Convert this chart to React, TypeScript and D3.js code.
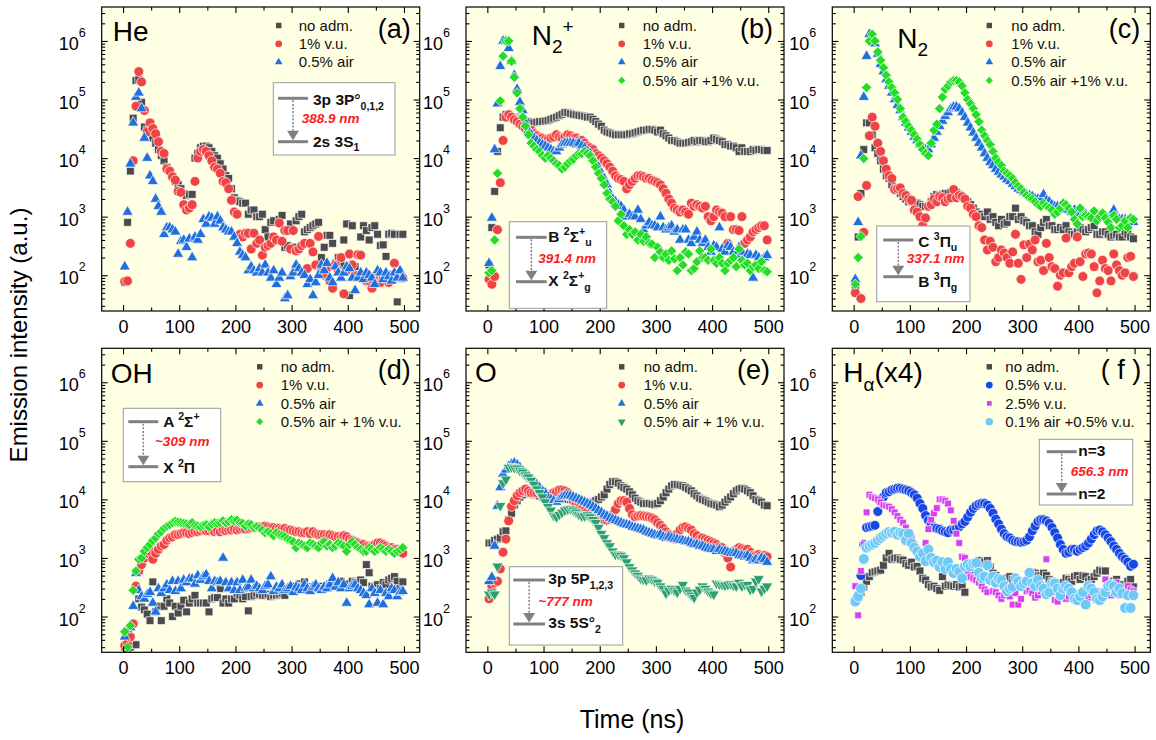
import { useEffect, useRef } from 'react';
import * as d3 from 'd3';

// time grid in ns, one sample every 5 ns
const TIME = d3.range(3, 500, 5);

const X_DOMAIN = [-38, 528];
const Y_DOMAIN = [24.5, 3.8e6];
const X_TICKS = [0, 100, 200, 300, 400, 500];
const X_MINOR = [50, 150, 250, 350, 450];
const Y_EXPONENTS = [2, 3, 4, 5, 6];

// (a) He 388.9 nm
const heNoAdm = [
  75, 800, 6000, 48000, 210000, 220000, 90000, 34000, 30000, 26000,
  22000, 18000, 14000, 11000, 9000, 7000, 6000, 4800, 4000, 3500,
  3000, 2500, 2300, 2400, 2400, 10000, 12000, 15000, 16000, 16000,
  15000, 13000, 11000, 10000, 8000, 6500, 5000, 4500, 3000, 2100,
  1900, 1800, 1700, 1700, 1100, 1300, 1300, 1000, 1000, 1100,
  600, 450, 800, 850, 400, 900, 1050, 300, 320, 750,
  300, 850, 1000, 1100, 550, 600, 650, 700, 750, 800,
  200, 300, 480, 480, 350, 160, 200, 150, 400, 750,
  45, 700, 140, 100, 450, 700, 580, 400, 650, 700,
  500, 320, 330, 210, 500, 520, 500, 35, 500, 500,
];
const heVu = [
  78, 80, 350, 9000, 77000, 300000, 200000, 65000, 28000, 40000,
  32000, 26000, 19000, 13000, 12000, 6500, 6000, 4800, 4200, 2700,
  2600, 1600, 1300, 1400, 1600, 4000, 10000, 13000, 14000, 13000,
  11000, 9000, 7000, 6500, 5500, 4000, 3800, 3000, 1900, 1200,
  1100, 500, 450, 520, 520, 280, 520, 350, 400, 220,
  300, 320, 350, 450, 400, 780, 380, 580, 580, 280,
  580, 260, 280, 320, 350, 130, 350, 250, 150, 460,
  120, 100, 130, 80, 60, 150, 120, 200, 48, 120,
  230, 150, 100, 225, 220, 100, 80, 80, 60, 90,
  80, 75, 90, 100, 75, 100, 160, 95, 90, 90,
];
const heAir = [
  140, 1200, 8000, 40000, 110000, 130000, 70000, 22000, 10000, 5000,
  4000, 2000, 1500, 1200, 500, 650, 650, 600, 550, 230,
  380, 400, 300, 420, 200, 450, 400, 500, 900, 750,
  1000, 950, 750, 1000, 850, 650, 600, 550, 550, 450,
  350, 250, 220, 200, 120, 140, 120, 110, 130, 110,
  150, 110, 90, 120, 70, 90, 110, 40, 45, 95,
  110, 150, 130, 110, 100, 70, 85, 45, 75, 100,
  150, 120, 160, 90, 75, 140, 110, 90, 110, 140,
  130, 90, 55, 90, 110, 85, 110, 100, 90, 70,
  120, 110, 85, 110, 95, 80, 110, 90, 120, 90,
];

// (b) N2+ 391.4 nm
const n2pNoAdm = [
  150, 650, 2700, 13000, 33000, 50000, 55000, 52000, 50000, 50000,
  48000, 46000, 45000, 43000, 42000, 40000, 40000, 41000, 42000, 42000,
  43000, 44000, 46000, 48000, 50000, 53000, 56000, 60000, 60000, 58000,
  56000, 55000, 54000, 53000, 52000, 50000, 50000, 46000, 42000, 38000,
  35000, 30000, 28000, 27000, 26000, 25000, 25000, 25000, 25000, 25000,
  26000, 26000, 27000, 28000, 29000, 30000, 30000, 31000, 31000, 30000,
  28000, 30000, 26000, 24000, 22000, 20000, 20000, 19000, 18000, 18000,
  18000, 18500, 19000, 20000, 19000, 20000, 20000, 19000, 19000, 20000,
  22000, 21000, 20000, 19000, 17000, 17000, 16000, 16000, 15000, 13000,
  15000, 13000, 13000, 13000, 14000, 13500, 14000, 14000, 13500, 13500,
];
const n2pVu = [
  85, 70, 95, 600, 3800, 20000, 50000, 55000, 50000, 45000,
  42000, 38000, 35000, 32000, 30000, 30000, 26000, 24000, 22000, 22000,
  21000, 21000, 22000, 23000, 25000, 23000, 22000, 23000, 25000, 24000,
  22000, 22000, 20000, 20000, 18000, 16000, 15000, 14000, 12000, 11000,
  10000, 9000, 8000, 7000, 6000, 5000, 4500, 4300, 4000, 3000,
  3500, 4000, 4500, 5000, 5000, 4800, 4500, 4500, 4200, 4000,
  3800, 3500, 3000, 2500, 2000, 1700, 1400, 1300, 1200, 1300,
  1200, 1100, 1700, 1500, 1600, 1500, 1400, 1500, 1000, 850,
  1000, 1300, 1200, 1150, 1000, 350, 1000, 600, 600, 580,
  1000, 350, 400, 450, 550, 600, 650, 700, 700, 400,
];
const n2pAir = [
  160, 950, 14000, 85000, 370000, 1000000, 1000000, 750000, 450000, 260000,
  150000, 90000, 65000, 40000, 30000, 25000, 22000, 20000, 18000, 17000,
  16000, 15000, 14000, 13000, 13000, 15000, 17000, 18000, 18000, 18000,
  18000, 17000, 18000, 16000, 15000, 13000, 12000, 10000, 8000, 7000,
  5500, 4500, 3500, 2500, 2000, 1800, 1600, 1500, 1300, 1000,
  1100, 1000, 1000, 1300, 900, 600, 700, 800, 700, 700,
  650, 1000, 650, 600, 650, 700, 550, 600, 400, 600,
  600, 400, 350, 450, 550, 400, 350, 400, 300, 250,
  320, 300, 650, 280, 250, 320, 300, 250, 220, 300,
  250, 150, 230, 220, 90, 220, 200, 180, 200, 220,
];
const n2pAirVu = [
  110, 120, 400, 5500, 95000, 550000, 1000000, 1000000, 450000, 240000,
  130000, 70000, 50000, 35000, 25000, 18000, 16000, 14000, 13000, 11000,
  10000, 11000, 10000, 9000, 8000, 7500, 6500, 7000, 8000, 9000,
  9500, 11000, 12000, 12000, 13000, 12000, 11000, 9000, 7000, 5500,
  4500, 3500, 2500, 2000, 1800, 1500, 850, 1100, 700, 500,
  600, 500, 550, 400, 500, 380, 450, 350, 340, 200,
  300, 250, 200, 230, 180, 260, 190, 120, 200, 150,
  250, 230, 120, 130, 170, 260, 200, 200, 180, 280,
  180, 160, 200, 160, 120, 160, 180, 200, 140, 280,
  180, 150, 160, 120, 140, 150, 130, 170, 120, 115,
];

// (c) N2 337.1 nm
const n2NoAdm = [
  60, 450, 2500, 14000, 40000, 40000, 25000, 15000, 12000, 9000,
  6500, 5000, 4500, 3500, 3000, 2800, 2500, 2200, 2000, 1800,
  1800, 1700, 1700, 1600, 1500, 1500, 1500, 1800, 2200, 2400,
  2300, 2400, 2500, 2500, 2600, 2500, 2600, 2400, 2200, 2000,
  1800, 1600, 1400, 1200, 1100, 1100, 1000, 1200, 900, 1000,
  800, 700, 900, 750, 800, 1000, 1000, 1400, 900, 1000,
  850, 800, 700, 700, 550, 500, 650, 800, 900, 700,
  700, 600, 600, 650, 600, 700, 550, 500, 500, 550,
  650, 600, 550, 600, 650, 700, 500, 500, 550, 550,
  500, 450, 480, 500, 450, 450, 550, 500, 450, 420,
];
const n2Vu = [
  50, 2200, 40, 540, 3400, 24000, 50000, 35000, 18000, 13000,
  9000, 6500, 5000, 4500, 2900, 3000, 3100, 2500, 2300, 2000,
  1900, 1300, 1200, 1000, 700, 950, 1500, 1600, 2000, 1800,
  2200, 2100, 1800, 2000, 2100, 2900, 2100, 2300, 2200, 2000,
  1500, 1400, 1100, 1000, 700, 650, 400, 270, 380, 300,
  170, 200, 270, 240, 200, 160, 250, 500, 160, 85,
  330, 200, 340, 270, 400, 170, 180, 120, 350, 200,
  140, 130, 65, 100, 110, 430, 110, 140, 160, 450,
  170, 95, 230, 240, 230, 140, 50, 80, 180, 130,
  120, 80, 230, 150, 120, 100, 110, 200, 210, 95,
];
const n2Air = [
  85, 800, 11000, 110000, 550000, 1300000, 1200000, 900000, 600000, 400000,
  300000, 220000, 170000, 130000, 100000, 80000, 65000, 50000, 40000, 33000,
  28000, 23000, 20000, 17000, 15000, 14000, 14000, 17000, 22000, 28000,
  35000, 43000, 52000, 60000, 70000, 75000, 75000, 70000, 60000, 50000,
  40000, 33000, 27000, 22000, 18000, 15000, 12000, 10000, 8500, 7500,
  6500, 5800, 5200, 4800, 4300, 4000, 3600, 3300, 3000, 2800,
  2600, 2400, 2300, 2200, 2000, 2000, 2000, 2400, 1900, 1800,
  1600, 1500, 1500, 1400, 1400, 1300, 1300, 1200, 1300, 1200,
  1100, 1100, 1100, 1000, 1100, 1000, 1000, 1000, 950, 1000,
  950, 1000, 1300, 1000, 900, 900, 900, 850, 850, 800,
];
const n2AirVu = [
  70, 200, 460, 9800, 160000, 1000000, 1300000, 1000000, 650000, 470000,
  350000, 260000, 200000, 160000, 130000, 100000, 70000, 50000, 42000, 35000,
  30000, 25000, 21000, 17000, 14000, 12000, 11000, 18000, 30000, 38000,
  70000, 110000, 150000, 170000, 200000, 210000, 210000, 200000, 170000, 130000,
  100000, 85000, 70000, 55000, 42000, 30000, 24000, 20000, 17000, 13000,
  10000, 8500, 7500, 6000, 5500, 5000, 4500, 3800, 3300, 3000,
  2600, 2300, 2100, 2000, 1800, 1600, 1500, 1700, 1500, 1400,
  1300, 1100, 1200, 1400, 1700, 1600, 1400, 1200, 900, 750,
  1400, 1000, 1050, 1000, 950, 1250, 850, 1000, 1150, 950,
  800, 650, 1050, 900, 650, 700, 850, 650, 950, 900,
];

// (d) OH ~309 nm
const ohNoAdm = [
  30, 28, 30, 33, 33, 200, 145, 130, 110, 85,
  390, 120, 150, 85, 150, 200, 170, 100, 150, 115,
  150, 190, 120, 170, 200, 230, 170, 170, 170, 170,
  120, 200, 210, 210, 300, 170, 200, 170, 200, 200,
  250, 230, 200, 220, 125, 220, 230, 250, 240, 230,
  230, 240, 220, 230, 230, 240, 250, 230, 300, 280,
  330, 300, 360, 330, 390, 320, 300, 300, 330, 320,
  330, 300, 330, 360, 340, 380, 360, 400, 330, 350,
  360, 400, 380, 350, 420, 380, 770, 560, 330, 330,
  350, 300, 380, 350, 420, 450, 480, 400, 300, 390,
];
const ohVu = [
  32, 35, 45, 75, 330, 600, 770, 1000, 1200, 1300,
  950, 1200, 1400, 1600, 1700, 2000, 2200, 2300, 2500, 2500,
  2600, 2700, 2700, 2600, 2700, 2800, 2800, 2900, 3000, 2900,
  2900, 3000, 2800, 2900, 2800, 3000, 2900, 3000, 3000, 3100,
  3000, 3100, 3200, 3100, 3200, 3300, 3300, 3400, 3400, 3300,
  3500, 3400, 3300, 3300, 3200, 3200, 3100, 3200, 3000, 3000,
  2900, 2800, 2800, 2700, 2700, 2800, 2600, 2800, 2600, 2500,
  2500, 2500, 2400, 2500, 2400, 2300, 2300, 2200, 2400, 2300,
  2100, 2000, 1900, 1800, 1700, 1700, 1600, 1600, 1600, 1700,
  1800, 1800, 1700, 1600, 1500, 1500, 1400, 1400, 1300, 1200,
];
const ohAir = [
  45, 60, 65, 150, 550, 280, 220, 200, 240, 260,
  170, 120, 300, 250, 300, 350, 280, 400, 270, 400,
  300, 420, 380, 440, 440, 360, 500, 420, 480, 520,
  400, 300, 400, 380, 400, 1000, 380, 300, 380, 280,
  380, 280, 420, 300, 320, 420, 300, 330, 300, 280,
  330, 350, 480, 270, 320, 300, 350, 280, 300, 330,
  260, 320, 300, 280, 350, 300, 270, 320, 350, 300,
  280, 320, 300, 350, 450, 320, 380, 300, 350, 170,
  300, 330, 350, 300, 280, 250, 230, 160, 300, 250,
  170, 280, 160, 250, 220, 300, 280, 220, 260, 270,
];
const ohAirVu = [
  55, 30, 70, 280, 600, 950, 1000, 1300, 1500, 1700,
  2000, 2200, 2600, 2800, 3200, 3500, 3700, 4000, 4200, 4100,
  4000, 3900, 3800, 3700, 4000, 3600, 3500, 3400, 3600, 3700,
  3400, 3800, 4000, 3900, 4000, 4300, 4000, 4200, 4500, 4300,
  4400, 4000, 3900, 3500, 3800, 3700, 3300, 3400, 3200, 3000,
  2700, 2800, 2600, 2400, 2700, 2500, 2400, 2300, 2100, 2000,
  1900, 1500, 1800, 1700, 1600, 1500, 1800, 1700, 1600, 1500,
  1800, 1900, 1600, 1700, 1500, 1600, 1800, 1700, 1600, 1300,
  1700, 1900, 1700, 1500, 1400, 1300, 1300, 1500, 1400, 1300,
  1400, 1500, 1400, 1300, 1400, 1300, 1200, 1300, 1400, 1500,
];

// (e) O ~777 nm
const oNoAdm = [
  1800, 1800, 2000, 2100, 2200, 2800, 2900, 4500, 5800, 8000,
  9500, 11000, 12000, 13000, 13000, 12500, 12000, 12000, 11500, 11000,
  11000, 11000, 11500, 11000, 11000, 10500, 10500, 10000, 10000, 10000,
  9500, 9000, 9000, 8800, 8500, 8500, 8800, 9000, 9500, 10000,
  11000, 12000, 15000, 18000, 20000, 20000, 19000, 17000, 16000, 15000,
  13500, 12000, 10500, 9500, 9000, 8500, 8500, 8500, 8300, 8200,
  8500, 9500, 11000, 13000, 15000, 17000, 18000, 18000, 17500, 17000,
  16000, 15000, 14000, 12500, 11500, 10500, 10000, 9500, 9000, 8500,
  8300, 8000, 7500, 8000, 9000, 10000, 11000, 12500, 14000, 15000,
  15500, 15000, 14000, 13000, 11500, 10000, 9500, 9000, 8000, 7800,
];
const oVu = [
  200, 330, 380, 400, 650, 1250, 2100, 4300, 7600, 9500,
  11500, 13000, 14000, 15000, 14000, 13000, 13000, 13000, 13500, 13000,
  12500, 12000, 12000, 13000, 13500, 14500, 14500, 14000, 13000, 11000,
  9500, 8500, 8000, 7000, 6500, 6200, 6000, 5600, 5200, 5000,
  4800, 4500, 4400, 4500, 5500, 6700, 8500, 9500, 9500, 9000,
  7000, 5500, 5000, 5200, 5300, 5200, 5100, 5000, 4800, 4500,
  4000, 3600, 3200, 2800, 2500, 2200, 2100, 2600, 3000, 3300,
  3400, 3200, 3000, 2600, 2400, 2100, 2200, 2100, 2000, 1900,
  1800, 1700, 1550, 1500, 1200, 1000, 700, 1300, 1400, 1500,
  1450, 1400, 1400, 1250, 1100, 1100, 1150, 1100, 1100, 1050,
];
const oAir = [
  400, 470, 1600, 7700, 16000, 27000, 32000, 37000, 40000, 42000,
  39000, 35000, 31000, 28000, 25000, 22000, 20000, 18000, 16000, 14000,
  13000, 11000, 10000, 9500, 9000, 10000, 11000, 11500, 11500, 11500,
  11000, 10500, 10000, 9500, 9000, 8500, 8000, 7500, 7000, 6500,
  6000, 5500, 5200, 4800, 4600, 4400, 4200, 4000, 3800, 3700,
  3600, 3400, 3300, 3200, 3100, 3000, 2800, 2700, 2600, 2500,
  2400, 2500, 2300, 2200, 2300, 2200, 2100, 2100, 2000, 2000,
  1900, 1900, 1800, 1700, 1700, 1600, 1600, 1500, 1450, 1400,
  1400, 1300, 1400, 1300, 1300, 1250, 1200, 1200, 1200, 1100,
  1100, 1050, 1100, 1000, 900, 950, 900, 1000, 950, 850,
];
const oAirVu = [
  240, 260, 240, 720, 7800, 19000, 22000, 35000, 36000, 35000,
  34000, 31000, 29000, 26000, 24000, 21000, 18000, 15000, 13000, 11000,
  9000, 7500, 6500, 5300, 5000, 5500, 6000, 6500, 6800, 6900,
  6500, 6000, 5500, 5200, 5200, 5400, 5000, 4500, 4000, 3300,
  2600, 2200, 1800, 1600, 1300, 1150, 1150, 1100, 1000, 850,
  700, 620, 550, 500, 450, 430, 420, 450, 430, 400,
  380, 330, 300, 250, 280, 300, 280, 260, 300, 350,
  280, 260, 230, 210, 260, 290, 330, 300, 270, 250,
  240, 370, 360, 350, 340, 350, 360, 340, 330, 380,
  330, 350, 350, 290, 300, 400, 440, 270, 300, 330,
];

// (f) H-alpha 656.3 nm (x4)
const haNoAdm = [
  190, 230, 260, 320, 400, 480, 560, 580, 600, 620,
  750, 1000, 1200, 950, 1000, 1000, 950, 920, 800, 750,
  850, 700, 720, 600, 450, 420, 350, 320, 330, 300,
  280, 480, 330, 350, 340, 330, 350, 320, 330, 260,
  480, 550, 600, 700, 900, 800, 850, 900, 700, 550,
  500, 400, 380, 400, 450, 480, 430, 380, 400, 330,
  370, 400, 460, 570, 550, 500, 500, 550, 500, 430,
  400, 380, 300, 350, 380, 450, 430, 400, 480, 500,
  430, 500, 480, 400, 430, 480, 550, 620, 600, 600,
  330, 380, 400, 430, 300, 350, 320, 400, 430, 320,
];
const haVu05 = [
  180, 210, 500, 1700, 3300, 3400, 3500, 3600, 6200, 9000,
  11000, 13000, 13500, 14500, 15000, 15500, 15500, 15000, 14500, 14000,
  13000, 12000, 10500, 8500, 7000, 5300, 4400, 3800, 3300, 3200,
  3100, 2900, 2800, 2700, 3000, 3000, 3200, 3400, 3800, 4200,
  5000, 6000, 7000, 7800, 8300, 8500, 8500, 8000, 7000, 5800,
  4600, 3800, 3100, 2600, 2300, 2200, 2000, 1900, 1900, 1850,
  1900, 2000, 2300, 2900, 3500, 4200, 4500, 4500, 4300, 3900,
  3300, 2700, 2200, 1700, 1400, 1200, 1250, 1400, 1400, 1300,
  1400, 1500, 1600, 1800, 2100, 2500, 2900, 3000, 2800, 2500,
  2200, 1900, 1600, 1400, 1200, 1050, 950, 850, 720, 780,
];
const haVu25 = [
  330, 105, 600, 1700, 6000, 12000, 11000, 10500, 10000, 9000,
  8000, 7800, 7500, 6800, 6000, 5200, 4500, 4000, 3300, 2700,
  2200, 1700, 1400, 1200, 1000, 1800, 3100, 4500, 5800, 7100,
  10000, 10000, 9500, 8500, 6500, 4300, 2600, 1800, 1050, 1000,
  600, 480, 450, 420, 380, 330, 290, 260, 430, 270,
  260, 230, 200, 230, 250, 220, 160, 250, 160, 200,
  330, 270, 280, 250, 210, 230, 270, 300, 950, 330,
  260, 190, 180, 220, 250, 200, 220, 270, 230, 190,
  250, 260, 230, 210, 230, 250, 270, 250, 260, 430,
  300, 230, 250, 380, 230, 280, 230, 330, 290, 270,
];
const haAirVu = [
  180, 220, 300, 960, 1500, 1600, 1700, 1800, 2000, 2200,
  2400, 2600, 2800, 2700, 2800, 2500, 2700, 2600, 2000, 2600,
  1800, 1500, 1300, 1050, 1200, 880, 1400, 1000, 850, 900,
  700, 850, 650, 850, 650, 550, 650, 580, 450, 720,
  780, 720, 800, 820, 560, 450, 480, 750, 420, 480,
  380, 440, 420, 330, 270, 300, 320, 450, 400, 330,
  370, 400, 560, 370, 330, 420, 330, 300, 240, 260,
  370, 370, 300, 230, 300, 330, 300, 260, 200, 190,
  220, 260, 160, 330, 300, 260, 200, 190, 220, 260,
  330, 350, 330, 260, 300, 250, 140, 230, 140, 230,
];

const FONT = 'Arial, "Liberation Sans", Helvetica, sans-serif';
const C = {
  gray: '#4b4b4b',
  red: '#f04343',
  blue: '#1f6fdc',
  green: '#26dd26',
  teal: '#2ba06e',
  deepBlue: '#1747e6',
  magenta: '#d640ee',
  sky: '#6ec9f7',
};

type Part = [string, 'n' | 'sub' | 'sup'];

const COL_X = [101.7, 466, 832.3];
const ROW_Y = [7, 348.3];
const W = 318;
const H = 304;

const PANELS = [
  {
    col: 0, row: 0, title: [['He', 'n']] as Part[], titleX: 11, titleY: 34, tag: '(a)', tagRight: 9,
    legendX: 177, legendDx: 20,
    series: [
      { label: 'no adm.', values: heNoAdm, shape: 'square', color: C.gray },
      { label: '1% v.u.', values: heVu, shape: 'circle', color: C.red },
      { label: '0.5% air', values: heAir, shape: 'triangle', color: C.blue },
    ],
    inset: {
      x: 171.6, y: 75.7, w: 121.7, h: 72.3, lx0: 4.7, lx1: 34.7, up: 15.6, lo: 59,
      tx: 39.7, upBase: 22.3, nmX: 28.4, nmBase: 40.6, loBase: 64, nm: '388.9 nm',
      upper: [['3p 3P°', 'n'], ['0,1,2', 'sub']] as Part[],
      lower: [['2s 3S', 'n'], ['1', 'sub']] as Part[],
    },
  },
  {
    col: 1, row: 0, title: [['N', 'n'], ['2', 'sub'], ['+', 'sup']] as Part[], titleX: 65.7, titleY: 38, tag: '(b)', tagRight: 11,
    legendX: 155.7, legendDx: 21,
    series: [
      { label: 'no adm.', values: n2pNoAdm, shape: 'square', color: C.gray },
      { label: '1% v.u.', values: n2pVu, shape: 'circle', color: C.red },
      { label: '0.5% air', values: n2pAir, shape: 'triangle', color: C.blue },
      { label: '0.5% air +1% v.u.', values: n2pAirVu, shape: 'diamond', color: C.green },
    ],
    inset: {
      x: 43.3, y: 214.7, w: 97.4, h: 86.6, lx0: 6.7, lx1: 37.4, up: 15.6, lo: 60,
      tx: 39, upBase: 20, nmX: 29, nmBase: 41.6, loBase: 64.3, nm: '391.4 nm',
      upper: [['B ', 'n'], ['2', 'sup'], ['Σ', 'n'], ['+', 'sup'], ['u', 'sub']] as Part[],
      lower: [['X ', 'n'], ['2', 'sup'], ['Σ', 'n'], ['+', 'sup'], ['g', 'sub']] as Part[],
    },
  },
  {
    col: 2, row: 0, title: [['N', 'n'], ['2', 'sub']] as Part[], titleX: 65, titleY: 41, tag: '(c)', tagRight: 10,
    legendX: 157, legendDx: 22,
    series: [
      { label: 'no adm.', values: n2NoAdm, shape: 'square', color: C.gray },
      { label: '1% v.u.', values: n2Vu, shape: 'circle', color: C.red },
      { label: '0.5% air', values: n2Air, shape: 'triangle', color: C.blue },
      { label: '0.5% air +1% v.u.', values: n2AirVu, shape: 'diamond', color: C.green },
    ],
    inset: {
      x: 44.4, y: 219, w: 93.3, h: 75.7, lx0: 6.6, lx1: 36.6, up: 14, lo: 50.7,
      tx: 41.6, upBase: 20.7, nmX: 30, nmBase: 37.3, loBase: 60.7, nm: '337.1 nm',
      upper: [['C ', 'n'], ['3', 'sup'], ['Π', 'n'], ['u', 'sub']] as Part[],
      lower: [['B ', 'n'], ['3', 'sup'], ['Π', 'n'], ['g', 'sub']] as Part[],
    },
  },
  {
    col: 0, row: 1, title: [['OH', 'n']] as Part[], titleX: 9, titleY: 35, tag: '(d)', tagRight: 9,
    legendX: 158, legendDx: 21,
    series: [
      { label: 'no adm.', values: ohNoAdm, shape: 'square', color: C.gray },
      { label: '1% v.u.', values: ohVu, shape: 'circle', color: C.red },
      { label: '0.5% air', values: ohAir, shape: 'triangle', color: C.blue },
      { label: '0.5% air + 1% v.u.', values: ohAirVu, shape: 'diamond', color: C.green },
    ],
    inset: {
      x: 21.6, y: 60, w: 97.4, h: 73.4, lx0: 5, lx1: 35, up: 13.4, lo: 58.4,
      tx: 40, upBase: 18.4, nmX: 31.7, nmBase: 37.7, loBase: 65, nm: '~309 nm',
      upper: [['A ', 'n'], ['2', 'sup'], ['Σ', 'n'], ['+', 'sup']] as Part[],
      lower: [['X ', 'n'], ['2', 'sup'], ['Π', 'n']] as Part[],
    },
  },
  {
    col: 1, row: 1, title: [['O', 'n']] as Part[], titleX: 9, titleY: 34, tag: '(e)', tagRight: 14,
    legendX: 155.7, legendDx: 22,
    series: [
      { label: 'no adm.', values: oNoAdm, shape: 'square', color: C.gray },
      { label: '1% v.u.', values: oVu, shape: 'circle', color: C.red },
      { label: '0.5% air', values: oAir, shape: 'triangle', color: C.blue },
      { label: '0.5% air + 1% v.u.', values: oAirVu, shape: 'down', color: C.teal },
    ],
    inset: {
      x: 43.3, y: 218.4, w: 113.4, h: 78.3, lx0: 4, lx1: 35.7, up: 13.3, lo: 57.3,
      tx: 39, upBase: 17.3, nmX: 29, nmBase: 39.3, loBase: 61.6, nm: '~777 nm',
      upper: [['3p 5P', 'n'], ['1,2,3', 'sub']] as Part[],
      lower: [['3s 5S°', 'n'], ['2', 'sub']] as Part[],
    },
  },
  {
    col: 2, row: 1, title: [['H', 'n'], ['α', 'sub'], ['(x4)', 'n']] as Part[], titleX: 11, titleY: 34, tag: '( f )', tagRight: 9,
    legendX: 157, legendDx: 16,
    series: [
      { label: 'no adm.', values: haNoAdm, shape: 'square', color: C.gray },
      { label: '0.5% v.u.', values: haVu05, shape: 'circle', color: C.deepBlue },
      { label: '2.5% v.u.', values: haVu25, shape: 'square', color: C.magenta, size: 46 },
      { label: '0.1% air +0.5% v.u.', values: haAirVu, shape: 'circle', color: C.sky, size: 90 },
    ],
    inset: {
      x: 207, y: 91, w: 93.4, h: 65.7, lx0: 7.4, lx1: 37.4, up: 12.4, lo: 54.7,
      tx: 39, upBase: 17, nmX: 31.4, nmBase: 36.7, loBase: 59.5, nm: '656.3 nm',
      upper: [['n=3', 'n']] as Part[],
      lower: [['n=2', 'n']] as Part[],
    },
  },
];

const SHAPE_SIZE: Record<string, number> = { square: 62, circle: 76, triangle: 54, diamond: 54, down: 54 };

function symbolPath(shape: string, size: number) {
  const type = shape === 'circle' ? d3.symbolCircle
    : shape === 'triangle' || shape === 'down' ? d3.symbolTriangle
    : d3.symbolSquare;
  return d3.symbol(type, size)() as string;
}
function symbolRotate(shape: string) {
  return shape === 'diamond' ? 45 : shape === 'down' ? 180 : 0;
}

function rich(sel: any, parts: Part[], size: number) {
  let shift = 0;
  parts.forEach(([s, k]) => {
    const target = k === 'sub' ? size * 0.3 : k === 'sup' ? -size * 0.42 : 0;
    sel.append('tspan')
      .attr('dy', target - shift)
      .attr('font-size', k === 'n' ? size : size * 0.68)
      .text(s);
    shift = target;
  });
}

export default function App() {
  const svgRef = useRef<SVGSVGElement>(null);

  useEffect(() => {
    const svg = d3.select(svgRef.current);
    svg.selectAll('*').remove();
    svg.attr('font-family', FONT);

    PANELS.forEach((p, pi) => {
      const g = svg.append('g').attr('transform', `translate(${COL_X[p.col]},${ROW_Y[p.row]})`);
      const x = d3.scaleLinear().domain(X_DOMAIN).range([0, W]);
      const y = d3.scaleLog().domain(Y_DOMAIN).range([H, 0]);

      g.append('rect').attr('width', W).attr('height', H).attr('fill', '#ffffe4');

      const clipId = `clip-${pi}`;
      g.append('clipPath').attr('id', clipId)
        .append('rect').attr('width', W).attr('height', H);

      // markers
      const marks = g.append('g').attr('clip-path', `url(#${clipId})`);
      p.series.forEach((s: any) => {
        const size = s.size || SHAPE_SIZE[s.shape];
        const path = symbolPath(s.shape, size);
        const rot = symbolRotate(s.shape);
        marks.append('g').selectAll('path')
          .data(s.values.map((v: number, i: number) => [TIME[i], v]))
          .join('path')
          .attr('d', path)
          .attr('transform', (d: any) => `translate(${x(d[0])},${y(d[1])}) rotate(${rot})`)
          .attr('fill', s.color)
          .attr('stroke', '#fff')
          .attr('stroke-width', 0.7);
      });

      // ticks (inward, mirrored)
      const minorY: number[] = [];
      for (let k = 1; k <= 6; k++) {
        for (let m = 2; m <= 9; m++) {
          const v = m * 10 ** k;
          if (v > Y_DOMAIN[0] && v < Y_DOMAIN[1]) minorY.push(v);
        }
      }
      const majorY = Y_EXPONENTS.map((e) => 10 ** e);
      const styleAxis = (sel: any) => {
        sel.select('.domain').remove();
        sel.selectAll('line').attr('stroke', '#000').attr('stroke-width', 1.1);
      };

      const gx = g.append('g').attr('transform', `translate(0,${H})`)
        .call(d3.axisBottom(x).tickValues(X_TICKS).tickSize(-6).tickPadding(9).tickFormat(d3.format('d')) as any);
      gx.attr('font-size', 18).attr('font-family', FONT);
      gx.selectAll('text').attr('fill', '#000');
      styleAxis(gx);
      styleAxis(g.append('g').attr('transform', `translate(0,${H})`)
        .call(d3.axisBottom(x).tickValues(X_MINOR).tickSize(-3.5).tickFormat(() => '') as any));
      styleAxis(g.append('g')
        .call(d3.axisTop(x).tickValues(X_TICKS).tickSize(-6).tickFormat(() => '') as any));
      styleAxis(g.append('g')
        .call(d3.axisTop(x).tickValues(X_MINOR).tickSize(-3.5).tickFormat(() => '') as any));
      styleAxis(g.append('g')
        .call(d3.axisLeft(y).tickValues(majorY).tickSize(-6).tickFormat(() => '') as any));
      styleAxis(g.append('g')
        .call(d3.axisLeft(y).tickValues(minorY).tickSize(-3.5).tickFormat(() => '') as any));
      styleAxis(g.append('g').attr('transform', `translate(${W},0)`)
        .call(d3.axisRight(y).tickValues(majorY).tickSize(-6).tickFormat(() => '') as any));
      styleAxis(g.append('g').attr('transform', `translate(${W},0)`)
        .call(d3.axisRight(y).tickValues(minorY).tickSize(-3.5).tickFormat(() => '') as any));

      // y labels 10^n
      Y_EXPONENTS.forEach((e) => {
        const t = g.append('text')
          .attr('x', -16).attr('y', y(10 ** e) + 9)
          .attr('text-anchor', 'end').attr('font-size', 18).attr('fill', '#000');
        t.append('tspan').text('10');
        t.append('tspan').attr('dy', -13).attr('font-size', 12.5).text(String(e));
      });

      g.append('rect').attr('width', W).attr('height', H)
        .attr('fill', 'none').attr('stroke', '#000').attr('stroke-width', 1.2);

      // panel title and tag
      const title = g.append('text').attr('x', p.titleX).attr('y', p.titleY).attr('fill', '#000');
      rich(title, p.title, 28);
      g.append('text').attr('x', W - p.tagRight).attr('y', 31).attr('text-anchor', 'end')
        .attr('font-size', 27).attr('fill', '#000').text(p.tag);

      // legend
      p.series.forEach((s: any, i: number) => {
        const cy = 18.5 + i * 18.3;
        const size = (s.size || SHAPE_SIZE[s.shape]) * 0.48;
        g.append('path')
          .attr('d', symbolPath(s.shape, size))
          .attr('transform', `translate(${p.legendX},${cy}) rotate(${symbolRotate(s.shape)})`)
          .attr('fill', s.color);
        g.append('text').attr('x', p.legendX + p.legendDx).attr('y', cy + 5.2)
          .attr('font-size', 15).attr('fill', '#111').text(s.label);
      });

      // energy level inset
      const ins = p.inset;
      const ig = g.append('g').attr('transform', `translate(${ins.x},${ins.y})`);
      ig.append('rect').attr('width', ins.w).attr('height', ins.h)
        .attr('fill', '#fff').attr('stroke', '#9a9a9a').attr('stroke-width', 1);
      [ins.up, ins.lo].forEach((ly) => {
        ig.append('line').attr('x1', ins.lx0).attr('x2', ins.lx1).attr('y1', ly).attr('y2', ly)
          .attr('stroke', '#808080').attr('stroke-width', 3);
      });
      const ax = (ins.lx0 + ins.lx1) / 2;
      const headH = 11;
      ig.append('line').attr('x1', ax).attr('x2', ax).attr('y1', ins.up + 2).attr('y2', ins.lo - headH)
        .attr('stroke', '#808080').attr('stroke-width', 1.5).attr('stroke-dasharray', '2,1.6');
      ig.append('path')
        .attr('d', `M${ax - 6},${ins.lo - headH}L${ax + 6},${ins.lo - headH}L${ax},${ins.lo - 1.5}Z`)
        .attr('fill', '#808080');
      const up = ig.append('text').attr('x', ins.tx).attr('y', ins.upBase)
        .attr('font-weight', 'bold').attr('fill', '#111');
      rich(up, ins.upper, 15.5);
      const lo = ig.append('text').attr('x', ins.tx).attr('y', ins.loBase)
        .attr('font-weight', 'bold').attr('fill', '#111');
      rich(lo, ins.lower, 15.5);
      ig.append('text').attr('x', ins.nmX).attr('y', ins.nmBase)
        .attr('font-weight', 'bold').attr('font-style', 'italic').attr('font-size', 13.5)
        .attr('fill', '#ff1a1a').text(ins.nm);
    });

    // shared axis titles
    svg.append('text').attr('x', 632).attr('y', 728).attr('text-anchor', 'middle')
      .attr('font-size', 25).attr('fill', '#000').text('Time (ns)');
    svg.append('text').attr('transform', 'translate(27,335) rotate(-90)').attr('text-anchor', 'middle')
      .attr('font-size', 24).attr('fill', '#000').text('Emission intensity (a.u.)');
  }, []);

  return (
    <svg
      ref={svgRef}
      width={1156}
      height={740}
      style={{ position: 'absolute', left: 0, top: 0, background: '#fff' }}
    />
  );
}
